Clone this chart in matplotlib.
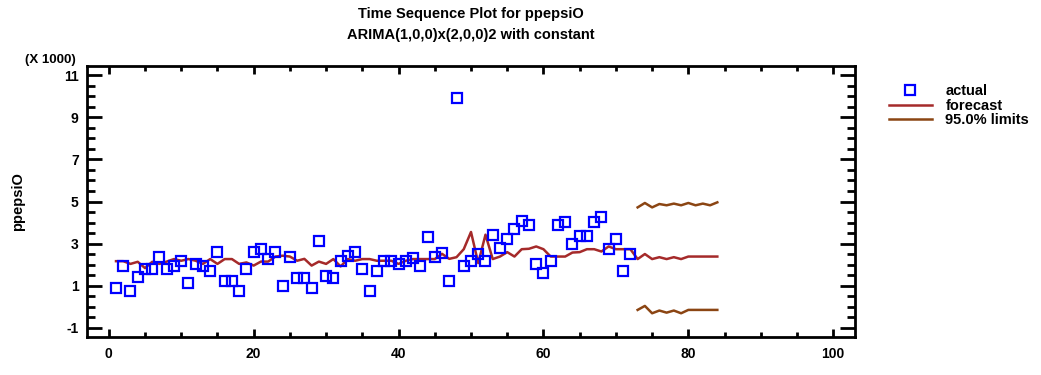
import numpy as np
import matplotlib
matplotlib.use("Agg")
import matplotlib.pyplot as plt
from matplotlib.ticker import MultipleLocator, FixedLocator

plt.rcParams['font.family'] = ['Liberation Sans', 'DejaVu Sans']
plt.rcParams['axes.unicode_minus'] = False
plt.rcParams['xtick.labelsize'] = 10
plt.rcParams['ytick.labelsize'] = 10

# actual observations (thousands), periods 1..72
actual = [0.88, 1.91, 0.75, 1.43, 1.78, 1.78, 2.38, 1.78, 1.91, 2.18,
          1.11, 2.02, 1.91, 1.70, 2.62, 1.22, 1.22, 0.75, 1.78, 2.62,
          2.75, 2.26, 2.62, 0.99, 2.38, 1.35, 1.35, 0.88, 3.10, 1.46,
          1.35, 2.18, 2.42, 2.62, 1.80, 0.75, 1.70, 2.18, 2.18, 2.02,
          2.18, 2.30, 1.91, 3.31, 2.38, 2.54, 1.22, 9.94, 1.94, 2.18,
          2.50, 2.18, 3.42, 2.81, 3.21, 3.69, 4.05, 3.90, 2.03, 1.59,
          2.15, 3.90, 4.02, 2.97, 3.34, 3.34, 4.02, 4.26, 2.73, 3.21,
          1.70, 2.50]

# one-step forecasts, periods 1..84
forecast = [2.16, 2.16, 2.03, 2.13, 1.83, 2.13, 2.03, 2.14, 2.26, 2.18,
            2.26, 2.18, 2.03, 2.26, 2.03, 2.26, 2.26, 2.03, 2.10, 1.95,
            2.14, 2.14, 2.38, 2.42, 2.38, 2.18, 2.27, 1.95, 2.14, 2.03,
            2.26, 1.91, 2.26, 2.18, 2.26, 2.26, 2.18, 2.18, 2.18, 2.03,
            2.18, 2.26, 2.26, 2.26, 2.26, 2.51, 2.27, 2.35, 2.73, 3.55,
            2.07, 3.42, 2.26, 2.38, 2.59, 2.38, 2.73, 2.75, 2.86, 2.73,
            2.38, 2.38, 2.38, 2.57, 2.59, 2.73, 2.73, 2.62, 2.86, 2.73,
            2.73, 2.73, 2.26, 2.50, 2.26, 2.35, 2.26, 2.35, 2.26, 2.38,
            2.38, 2.38, 2.38, 2.38]

# 95% limits for periods 73..84
upper = [4.72, 4.93, 4.72, 4.88, 4.82, 4.90, 4.82, 4.93, 4.82, 4.90, 4.82, 4.96]
lower = [-0.16, 0.03, -0.32, -0.19, -0.29, -0.19, -0.32, -0.16, -0.16, -0.16, -0.16, -0.16]

t_actual = np.arange(1, len(actual) + 1)
t_forecast = np.arange(1, len(forecast) + 1)
t_limits = np.arange(73, 73 + len(upper))

fig = plt.figure(figsize=(10.41, 3.75), dpi=100)
ax = fig.add_axes([0.0836, 0.1013, 0.7377, 0.7227])

ax.plot(t_forecast, forecast, color='#a52a2a', lw=1.8, label='forecast', zorder=2)
ax.plot(t_limits, upper, color='#8b4513', lw=1.8, label='95.0% limits', zorder=2)
ax.plot(t_limits, lower, color='#8b4513', lw=1.8, zorder=2)
ax.plot(t_actual, actual, ls='none', marker='s', ms=6.5, mfc='none', mec='#0000ff',
        mew=1.6, label='actual', zorder=3)

ax.set_xlim(-3, 103)
ax.set_ylim(-1.45, 11.45)
ax.xaxis.set_major_locator(MultipleLocator(20))
ax.xaxis.set_minor_locator(MultipleLocator(5))
ax.yaxis.set_major_locator(FixedLocator(np.arange(-1, 12, 2)))
ax.yaxis.set_minor_locator(MultipleLocator(0.5))
ax.tick_params(which='both', direction='in', top=True, right=True, width=2)
ax.tick_params(axis='y', which='major', length=10.5, pad=6)
ax.tick_params(axis='y', which='minor', length=5.5)
ax.tick_params(axis='x', which='major', length=6, pad=7)
ax.tick_params(axis='x', which='minor', length=3.5)
for lab in ax.get_xticklabels() + ax.get_yticklabels():
    lab.set_fontweight('bold')
    lab.set_fontsize(10)
for s in ax.spines.values():
    s.set_linewidth(2)

ax.set_ylabel('ppepsiO', fontsize=10.5, fontweight='bold')
ax.yaxis.set_label_coords(-0.081, 0.5)
fig.text(0.024, 0.825, '(X 1000)', fontsize=9.5, fontweight='bold', va='bottom')
fig.text(0.4525, 0.963, 'Time Sequence Plot for ppepsiO', fontsize=10.5,
         fontweight='bold', ha='center', va='center')
fig.text(0.4525, 0.907, 'ARIMA(1,0,0)x(2,0,0)2 with constant', fontsize=10.5,
         fontweight='bold', ha='center', va='center')

h, l = ax.get_legend_handles_labels()
order = [2, 0, 1]
fig.legend([h[i] for i in order], [l[i] for i in order], loc='upper left',
           bbox_to_anchor=(0.841, 0.811), frameon=False,
           handlelength=3.0, labelspacing=0.05, handletextpad=0.9,
           prop={'weight': 'bold', 'size': 10.5})

fig.savefig('out.png', dpi=100)
